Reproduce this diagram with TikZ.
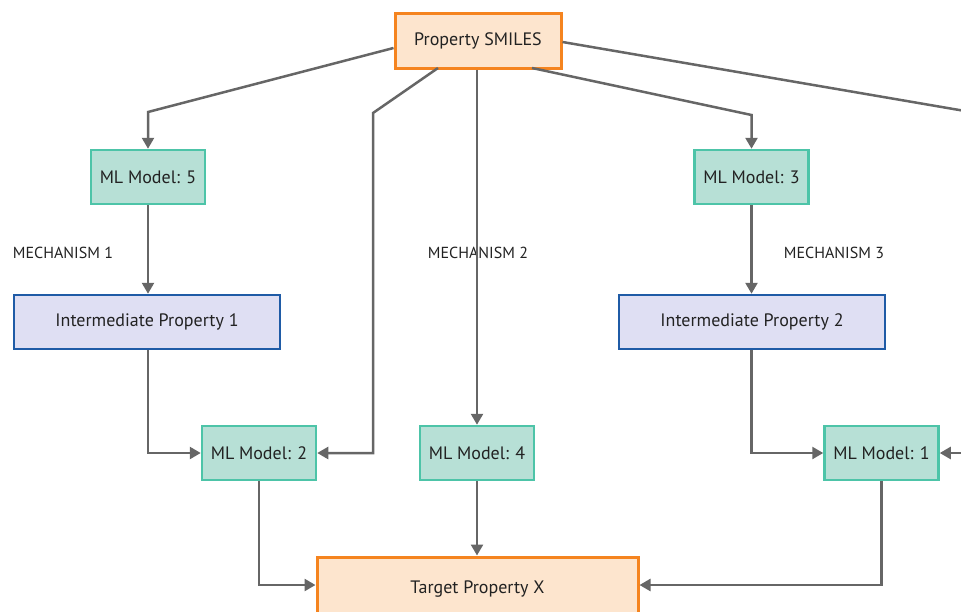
\documentclass[tikz,border=0pt]{standalone}
\usepackage{fontspec}
\setmainfont{PT Sans}
\usetikzlibrary{arrows.meta,calc}
\definecolor{orgB}{HTML}{F5841F}
\definecolor{orgF}{HTML}{FDE5CE}
\definecolor{tealB}{HTML}{4DC4A8}
\definecolor{tealF}{HTML}{B7E0D6}
\definecolor{bluB}{HTML}{1F5BA6}
\definecolor{bluF}{HTML}{DFDFF3}
\definecolor{lineC}{HTML}{666666}
\definecolor{txtC}{HTML}{222222}
\tikzset{
  box/.style={draw, line width=2.5pt, inner sep=0pt, text=txtC, font=\fontsize{18}{21}\selectfont},
  srcbox/.style={box, draw=orgB, fill=orgF, line width=3pt},
  mlbox/.style={box, draw=tealB, fill=tealF, minimum width=114pt, minimum height=54pt},
  ipbox/.style={box, draw=bluB, fill=bluF, minimum width=266pt, minimum height=54pt},
  conn/.style={draw=lineC, line width=2.5pt, -{Triangle[length=11pt,width=12pt]}},
  plain/.style={draw=lineC, line width=2.5pt},
  mech/.style={text=txtC, font=\fontsize{16}{19}\selectfont, inner sep=0pt}
}
\begin{document}
\begin{tikzpicture}[x=1pt,y=-1pt]
\useasboundingbox (0,0) rectangle (961,611);
\clip (0,0) rectangle (961,611);
% nodes
\node[srcbox, minimum width=166pt, minimum height=55pt] (smiles) at (478,40.5) {Property SMILES};
\node[mlbox] (ml5) at (148,177) {ML Model: 5};
\node[mlbox] (ml3) at (751.5,177) {ML Model: 3};
\node[ipbox] (ip1) at (147,322) {Intermediate Property 1};
\node[ipbox] (ip2) at (752,322) {Intermediate Property 2};
\node[mlbox] (ml2) at (259,453) {ML Model: 2};
\node[mlbox] (ml4) at (477,453) {ML Model: 4};
\node[mlbox] (ml1) at (881.5,453) {ML Model: 1};
\node[srcbox, minimum width=321pt, minimum height=64pt] (target) at (477.5,589) {Target Property X};
\node[mech] (m1) at (63,253) {MECHANISM 1};
\node[mech] (m2) at (478,253) {MECHANISM 2};
\node[mech] (m3) at (834,253) {MECHANISM 3};
% helper coordinates
\coordinate (a1) at (148,112);
\coordinate (a2) at (373,113);
\coordinate (a3) at (751.5,115);
\coordinate (a4) at (1000,117);
\coordinate (a5) at (980,453);
% connectors from SMILES
\draw[conn] (smiles.west |- 0,48) -- (a1) -- (ml5.north);
\draw[conn] (438,68) -- (a2) -- (a2 |- ml2.east) -- (ml2.east);
\draw[conn] (smiles.south -| ml4.north) -- (ml4.north);
\draw[conn] (532,68) -- (a3) -- (ml3.north);
\draw[plain] (smiles.east |- 0,42) -- (a4);
\draw[conn] (a5) -- (ml1.east);
% mechanisms
\draw[conn] (ml5.south) -- (ip1.north -| ml5.south);
\draw[conn] (ml3.south) -- (ip2.north -| ml3.south);
\draw[conn] (ip1.south -| ml5.south) |- (ml2.west);
\draw[conn] (ip2.south -| ml3.south) |- (ml1.west);
% to target
\draw[conn] (ml2.south) |- (target.west |- 0,585);
\draw[conn] (ml4.south) -- (target.north -| ml4.south);
\draw[conn] (ml1.south) |- (target.east |- 0,585);
\end{tikzpicture}
\end{document}
